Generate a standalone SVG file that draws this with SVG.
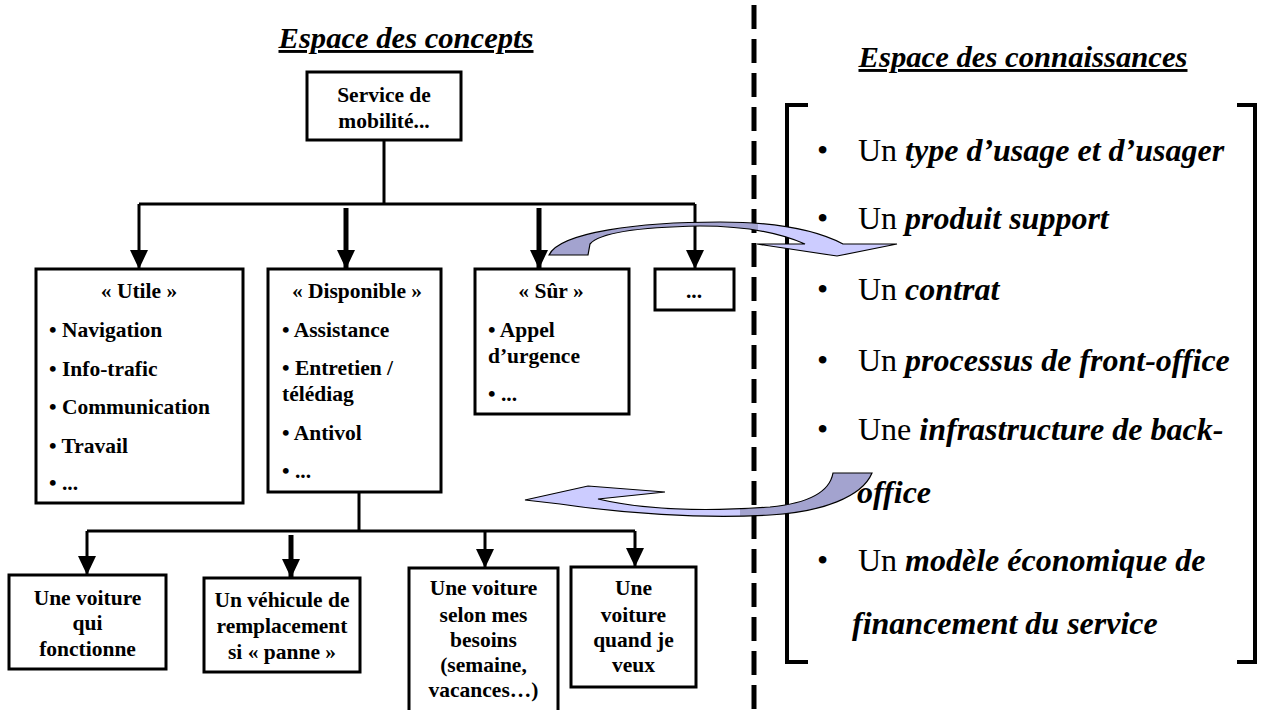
<svg xmlns="http://www.w3.org/2000/svg" width="1261" height="710" viewBox="0 0 1261 710">
<style>
.box{fill:#fff;stroke:#000;stroke-width:3}
.t{font-family:"Liberation Serif","Times New Roman",serif;font-weight:bold;font-size:21.5px;fill:#000}
.c{text-anchor:middle}
.ttl{font-family:"Liberation Serif","Times New Roman",serif;font-weight:bold;font-style:italic;font-size:29px;text-decoration:underline;fill:#000}
.li{font-family:"Liberation Serif","Times New Roman",serif;font-size:32px;fill:#000}
.bi{font-weight:bold;font-style:italic}
.ln{fill:none;stroke:#000;stroke-width:3}
.thk{fill:none;stroke:#000;stroke-width:5}
.blk{fill:none;stroke:#000;stroke-width:4}
</style>
<defs>
<marker id="ah" viewBox="0 0 19 18" refX="19" refY="9" markerWidth="19" markerHeight="18" orient="auto" markerUnits="userSpaceOnUse">
<path d="M0,0 L19,9 L0,18 Z" fill="#000"/>
</marker>
<linearGradient id="gTop" gradientUnits="userSpaceOnUse" x1="549" y1="0" x2="897" y2="0">
<stop offset="0" stop-color="#a3a3cf"/><stop offset="0.6" stop-color="#a3a3cf"/><stop offset="0.6" stop-color="#ccccff"/><stop offset="1" stop-color="#ccccff"/>
</linearGradient>
<linearGradient id="gBot" gradientUnits="userSpaceOnUse" x1="525" y1="0" x2="872" y2="0">
<stop offset="0" stop-color="#ccccff"/><stop offset="0.62" stop-color="#ccccff"/><stop offset="0.62" stop-color="#a3a3cf"/><stop offset="1" stop-color="#a3a3cf"/>
</linearGradient>
</defs>
<rect width="1261" height="710" fill="#fff"/>

<text class="ttl c" x="406" y="48" textLength="255" lengthAdjust="spacingAndGlyphs">Espace des concepts</text>
<text class="ttl c" x="1023" y="67" textLength="329" lengthAdjust="spacingAndGlyphs">Espace des connaissances</text>

<g id="connectors">
<path class="ln" d="M384,141 V204 M139,204 H695 M359,492 V531 M87,531 H635"/>
<path class="ln" d="M139,204 V269" marker-end="url(#ah)"/>
<path class="thk" d="M346,208 V269" marker-end="url(#ah)"/>
<path class="thk" d="M539,208 V269" marker-end="url(#ah)"/>
<path class="ln" d="M695,204 V269" marker-end="url(#ah)"/>
<path class="ln" d="M87,531 V575" marker-end="url(#ah)"/>
<path class="thk" d="M291,535 V578" marker-end="url(#ah)"/>
<path class="ln" d="M485,531 V568" marker-end="url(#ah)"/>
<path class="ln" d="M635,531 V567" marker-end="url(#ah)"/>
</g>

<g id="n-service"><rect class="box" x="307" y="72" width="154" height="68"/>
<text class="t c" x="384" y="102">Service de</text><text class="t c" x="384" y="128">mobilité...</text></g>

<g id="n-utile"><rect class="box" x="36" y="269" width="207" height="234"/>
<text class="t c" x="139" y="298">« Utile »</text>
<text class="t" x="49" y="337">• Navigation</text>
<text class="t" x="49" y="376">• Info-trafic</text>
<text class="t" x="49" y="414">• Communication</text>
<text class="t" x="49" y="453">• Travail</text>
<text class="t" x="49" y="490">• ...</text></g>

<g id="n-disponible"><rect class="box" x="268" y="269" width="173" height="223"/>
<text class="t c" x="357" y="298">« Disponible »</text>
<text class="t" x="282" y="337">• Assistance</text>
<text class="t" x="282" y="375">• Entretien /</text>
<text class="t" x="282" y="401">télédiag</text>
<text class="t" x="282" y="440">• Antivol</text>
<text class="t" x="282" y="478">• ...</text></g>

<g id="n-sur"><rect class="box" x="475" y="269" width="154" height="145"/>
<text class="t c" x="551" y="298">« Sûr »</text>
<text class="t" x="488" y="337">• Appel</text>
<text class="t" x="488" y="363">d’urgence</text>
<text class="t" x="488" y="401">• ...</text></g>

<g id="n-etc"><rect class="box" x="655" y="269" width="79" height="41"/>
<text class="t c" x="694" y="298">...</text></g>

<g id="n-fonctionne"><rect class="box" x="9" y="575" width="157" height="94"/>
<text class="t c" x="87.5" y="605">Une voiture</text><text class="t c" x="87.5" y="630">qui</text><text class="t c" x="87.5" y="656">fonctionne</text></g>

<g id="n-remplacement"><rect class="box" x="204" y="578" width="156" height="94"/>
<text class="t c" x="282" y="607">Un véhicule de</text><text class="t c" x="282" y="633">remplacement</text><text class="t c" x="282" y="659">si « panne »</text></g>

<g id="n-besoins"><rect class="box" x="409" y="568" width="149" height="160"/>
<text class="t c" x="483.5" y="595">Une voiture</text><text class="t c" x="483.5" y="622">selon mes</text><text class="t c" x="483.5" y="647">besoins</text><text class="t c" x="483.5" y="672">(semaine,</text><text class="t c" x="483.5" y="697">vacances…)</text></g>

<g id="n-quand"><rect class="box" x="571" y="567" width="125" height="120"/>
<text class="t c" x="633.5" y="595">Une</text><text class="t c" x="633.5" y="622">voiture</text><text class="t c" x="633.5" y="647">quand je</text><text class="t c" x="633.5" y="672">veux</text></g>

<line x1="754" y1="5" x2="754" y2="710" stroke="#000" stroke-width="5" stroke-dasharray="24 10"/>

<g id="n-connaissances">
<path class="blk" d="M808,105 H787 V662 H808 M1237,105 H1255 V662 H1237"/>
<g class="li">
<text x="817" y="161">•</text><text x="858" y="161">Un <tspan class="bi">type d’usage et d’usager</tspan></text>
<text x="817" y="229">•</text><text x="858" y="229">Un <tspan class="bi">produit support</tspan></text>
<text x="817" y="300">•</text><text x="858" y="300">Un <tspan class="bi">contrat</tspan></text>
<text x="817" y="371">•</text><text x="858" y="371">Un <tspan class="bi">processus de front-office</tspan></text>
<text x="817" y="440">•</text><text x="858" y="440">Une <tspan class="bi">infrastructure de back-</tspan></text>
<text x="857" y="503" class="bi">office</text>
<text x="817" y="571">•</text><text x="858" y="571">Un <tspan class="bi">modèle économique de</tspan></text>
<text x="852" y="634" class="bi">financement du service</text>
</g>
</g>

<g id="curved-arrows">
<path d="M549,255 C560,232 640,222 720,222 C780,222 820,232 843,244 L897,244 L837,256 L757,244 L805,244 C780,233 745,226 700,226 C645,227 600,232 590,244 L588,255 Z" fill="url(#gTop)" stroke="#000" stroke-width="1.2"/>
<path d="M525,500 L588,486 L665,492 L598,499 C650,511 715,511 770,507 C812,503 830,490 833,473 L872,473 C862,497 822,512 770,515 C700,519 620,513 560,504 Z" fill="url(#gBot)" stroke="#000" stroke-width="1.2"/>
</g>
</svg>
